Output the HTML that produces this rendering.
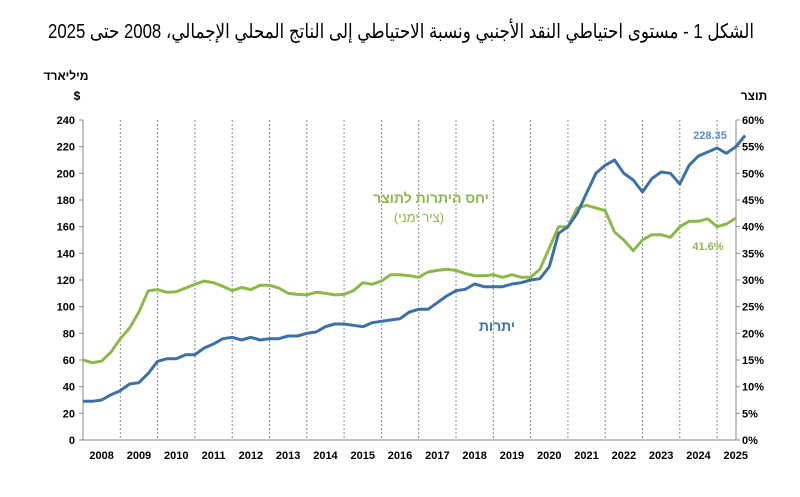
<!DOCTYPE html>
<html><head><meta charset="utf-8">
<style>
body{margin:0;background:#fff;}
svg{display:block;font-family:"Liberation Sans","DejaVu Sans",sans-serif;}
</style></head>
<body>
<svg width="800" height="497" viewBox="0 0 800 497">
<text x="401" y="38" text-anchor="middle" textLength="706" lengthAdjust="spacingAndGlyphs" font-size="20" font-family="'Liberation Sans','DejaVu Sans',sans-serif" fill="#000">الشكل 1 - مستوى احتياطي النقد الأجنبي ونسبة الاحتياطي إلى الناتج المحلي الإجمالي، 2008 حتى 2025</text>
<text x="66" y="80" text-anchor="middle" font-size="12" font-weight="bold">מיליארד</text>
<text x="77" y="100" text-anchor="middle" font-size="12" font-weight="bold">$</text>
<text x="754" y="100" text-anchor="middle" font-size="12" font-weight="bold">תוצר</text>
<g id="grid"></g>
<g id="axes"></g>
<g id="series"></g>
<text x="431" y="203" text-anchor="middle" font-size="14" font-weight="bold" fill="#8DB84A">יחס היתרות לתוצר</text>
<text x="419" y="222" text-anchor="middle" font-size="13" fill="#8DB84A">(ציר ימני)</text>
<text x="497" y="331" text-anchor="middle" font-size="14" font-weight="bold" fill="#3D6FA8">יתרות</text>
<text x="710" y="139" text-anchor="middle" font-size="11" font-weight="bold" fill="#5B8BC9">228.35</text>
<text x="708" y="250" text-anchor="middle" font-size="11" font-weight="bold" fill="#8DB84A">41.6%</text>
</svg>
<script>
const years=[2008,2009,2010,2011,2012,2013,2014,2015,2016,2017,2018,2019,2020,2021,2022,2023,2024,2025];
const leftTicks=[0,20,40,60,80,100,120,140,160,180,200,220,240];
const rightTicks=[0,5,10,15,20,25,30,35,40,45,50,55,60];
// quarterly from 2008.0
const reserves=[29,29,30,34,37,42,43,50,59,61,61,64,64,69,72,76,77,75,77,75,76,76,78,78,80,81,85,87,87,86,85,88,89,90,91,96,98,98,103,108,112,113,117,115,115,115,117,118,120,121,130,155,160,170,185,200,206,210,200,195,186,196,201,200,192,206,213,216,219,215,220,228.35];
const ratio=[15,14.5,14.8,16.5,19,21,24,28,28.2,27.7,27.8,28.5,29.2,29.8,29.5,28.8,28,28.6,28.2,29,29,28.5,27.5,27.3,27.2,27.7,27.5,27.2,27.3,28,29.5,29.2,29.8,31,31,30.8,30.5,31.5,31.8,32,31.8,31.2,30.8,30.8,31,30.5,31,30.5,30.5,32,36,40,40,43.5,44,43.5,43,39,37.5,35.5,37.5,38.5,38.5,38,40,41,41,41.5,40,40.5,41.6];
const X0=83,X1=736,Y0=440,Y1=120,YW=37.3;
const xT=t=>X0+(t-2008)*YW;
const yL=v=>Y0-(v/240)*(Y0-Y1);
const yR=p=>Y0-(p/60)*(Y0-Y1);
const NS="http://www.w3.org/2000/svg";
function mk(tag,attrs,parent){const e=document.createElementNS(NS,tag);for(const k in attrs)e.setAttribute(k,attrs[k]);parent.appendChild(e);return e;}
const grid=document.getElementById('grid'),axes=document.getElementById('axes'),ser=document.getElementById('series');
years.forEach((y,i)=>{
  if(i>0){const l=mk('line',{x1:xT(y),x2:xT(y),y1:Y1,y2:Y0,stroke:'#888','stroke-width':1,'stroke-dasharray':'2,2'},grid);
  
  }
  const t=mk('text',{x:xT(y)+YW/2,y:459,'text-anchor':'middle','font-size':11,'font-weight':'bold'},axes);
  t.textContent=y;
  
  
});
leftTicks.forEach(v=>{
  const t=mk('text',{x:75,y:yL(v)+4,'text-anchor':'end','font-size':11,'font-weight':'bold'},axes);
  t.textContent=v;
  
  
  mk('line',{x1:X0-4,x2:X0,y1:yL(v),y2:yL(v),stroke:'#888'},axes);
});
rightTicks.forEach(p=>{
  const t=mk('text',{x:742,y:yR(p)+4,'text-anchor':'start','font-size':11,'font-weight':'bold'},axes);
  t.textContent=p+'%';
  
  
  mk('line',{x1:X1,x2:X1+4,y1:yR(p),y2:yR(p),stroke:'#888'},axes);
});
const la=mk('line',{x1:X0,x2:X0,y1:Y1,y2:Y0,stroke:'#888'},axes);


const ra=mk('line',{x1:X1,x2:X1,y1:Y1,y2:Y0,stroke:'#888'},axes);


const xa=mk('line',{x1:X0,x2:X1,y1:Y0,y2:Y0,stroke:'#888'},axes);


const pg=ratio.map((p,i)=>xT(2008+i/4).toFixed(1)+','+yR(p).toFixed(1)).join(' ');
const g=mk('polyline',{points:pg,fill:'none',stroke:'#8DB84A','stroke-width':3,'stroke-linejoin':'round'},ser);


const pb=reserves.map((v,i)=>xT(2008+i/4).toFixed(1)+','+yL(v).toFixed(1)).join(' ');
const b=mk('polyline',{points:pb,fill:'none',stroke:'#3D6FA8','stroke-width':3,'stroke-linejoin':'round'},ser);


</script>
</body></html>
